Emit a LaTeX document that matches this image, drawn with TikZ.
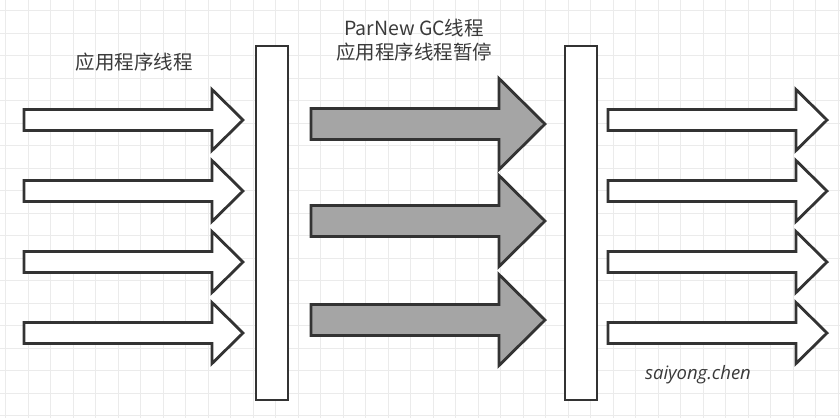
\documentclass[tikz,border=0pt]{standalone}
\usepackage{fontspec}
\setmainfont{Noto Sans CJK SC}
\newfontfamily\signfont{Open Sans}
\usepackage{tikz}
\usetikzlibrary{positioning}
\definecolor{linec}{HTML}{333333}
\definecolor{gridc}{HTML}{EBEBEB}
\definecolor{gcgray}{HTML}{A5A5A5}
\definecolor{textc}{HTML}{3A3A3A}
\tikzstyle{arrw}=[draw=linec,line width=2.8pt,line join=miter,fill=white]
\tikzstyle{gcarrw}=[arrw,fill=gcgray]
\tikzstyle{bar}=[draw=linec,line width=2.8pt,fill=white,rectangle,inner sep=0pt,minimum width=32pt,minimum height=354pt]
\tikzstyle{lbl}=[text=textc,font=\fontsize{19.5}{24}\selectfont,align=center,inner sep=0pt]
% style, x start, x neck, x tip, y, shaft half, head half
\newcommand{\fatarrow}[7]{%
	\draw[#1] (#2,#5-#6) -- (#3,#5-#6) -- (#3,#5-#7) -- (#4,#5)
		-- (#3,#5+#7) -- (#3,#5+#6) -- (#2,#5+#6) -- cycle;}
\begin{document}
\begin{tikzpicture}[x=1pt,y=-1pt]
	\useasboundingbox (0,0) rectangle (840,418);
	\fill[white] (0,0) rectangle (840,418);
	% grid
	\foreach \x in {0,...,37}
	{
		\draw[gridc,line width=1pt] (5.5+22.5*\x,0) -- (5.5+22.5*\x,418);
	}
	\foreach \y in {0,...,18}
	{
		\draw[gridc,line width=1pt] (0,10.5+22.5*\y) -- (840,10.5+22.5*\y);
	}
	% application threads
	\foreach \y in {120,191,262,333}
	{
		\fatarrow{arrw}{24}{212}{243}{\y}{10.5}{30.5}
		\fatarrow{arrw}{608}{796}{827}{\y}{10.5}{30.5}
	}
	% GC threads
	\foreach \y in {124,221,320}
	{
		\fatarrow{gcarrw}{311}{499}{545}{\y}{15.5}{45.5}
	}
	\node[bar] (stop1) at (272,223) {};
	\node[bar] (stop2) at (581,223) {};
	\node[lbl] (apptxt) at (134,62) {应用程序线程};
	\node[lbl] (gctxt) at (414,40) {ParNew GC线程\\应用程序线程暂停};
	\node[text=textc,font=\signfont\itshape\fontsize{18.5}{22}\selectfont,inner sep=0pt] (sign) at (698,375) {saiyong.chen};
\end{tikzpicture}
\end{document}
